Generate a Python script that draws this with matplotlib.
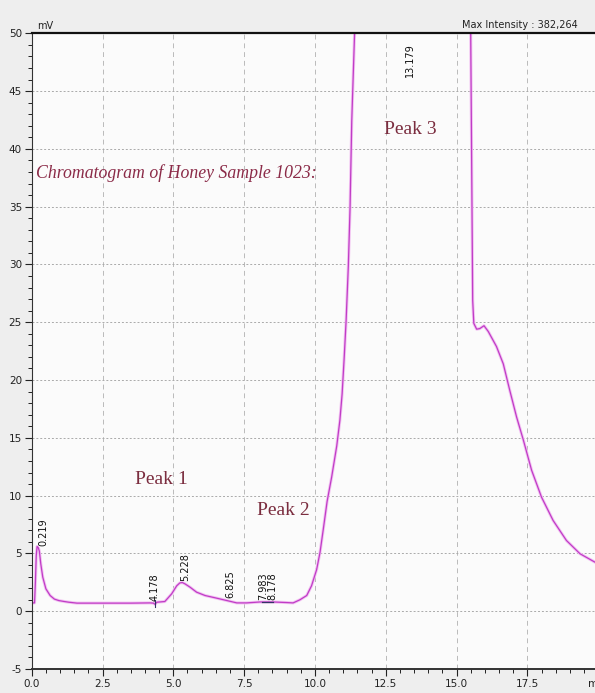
import numpy as np
import matplotlib.pyplot as plt
from matplotlib.ticker import MultipleLocator

# chromatogram trace (min, mV)
time = [0.0, 0.1, 0.13, 0.16, 0.19, 0.23, 0.27, 0.32, 0.39, 0.5, 0.65, 0.8,
        0.96, 1.15, 1.31, 1.6, 2.5, 3.5, 4.18, 4.3, 4.35, 4.42, 4.7, 4.94,
        5.12, 5.23, 5.32, 5.41, 5.59, 5.82, 6.12, 6.53, 6.88, 7.24, 7.59,
        8.06, 8.53, 9.0, 9.23, 9.47, 9.71, 9.88, 10.06, 10.18, 10.29, 10.43,
        10.59, 10.77, 10.88, 10.96, 11.03, 11.1, 11.18, 11.24, 11.3, 11.4,
        11.6, 12.0, 12.5, 13.179, 14.0, 14.8, 15.3, 15.5, 15.57, 15.61,
        15.71, 15.82, 15.97, 16.12, 16.41, 16.65, 16.88, 17.12, 17.36,
        17.65, 18.0, 18.41, 18.88, 19.36, 19.89, 20.0]
signal = [0.72, 0.72, 2.5, 4.8, 5.6, 5.5, 5.2, 4.1, 2.95, 1.94, 1.36, 1.05,
          0.92, 0.84, 0.78, 0.7, 0.7, 0.7, 0.72, 0.7, 0.6, 0.78, 0.84, 1.5,
          2.2, 2.45, 2.48, 2.37, 2.08, 1.65, 1.36, 1.13, 0.93, 0.72, 0.72,
          0.8, 0.8, 0.75, 0.72, 0.99, 1.36, 2.2, 3.6, 5.1, 7.0, 9.5, 11.6,
          14.3, 16.5, 18.8, 21.8, 25.1, 29.9, 34.9, 42.4, 50.0, 75.0, 150.0,
          280.0, 382.264, 300.0, 160.0, 80.0, 50.0, 26.9, 24.9, 24.4, 24.45,
          24.7, 24.2, 22.9, 21.4, 19.1, 16.8, 14.8, 12.2, 9.87, 7.85, 6.12,
          4.97, 4.24, 4.15]

# retention times printed on the peaks
peak_rt = [0.219, 4.178, 5.228, 6.825, 7.983, 8.178, 13.179]
peak_names = ["Peak 1", "Peak 2", "Peak 3"]
peak_name_pos = [(3.65, 11.4), (7.95, 8.7), (12.45, 41.7)]

plt.rcParams['font.family'] = ['DejaVu Sans']

fig = plt.figure(figsize=(5.95, 6.93), dpi=100, facecolor='#eeeeee')
ax = fig.add_axes([0.0533, 0.0346, 0.952, 0.9174], facecolor='#fbfbfb')

ax.plot(time, signal, color='#f2c2f2', lw=2.2, solid_joinstyle='round')
ax.plot(time, signal, color='#c03cc6', lw=0.9, solid_joinstyle='round')

ax.set_xlim(0, 20)
ax.set_ylim(-5, 50)
xt = np.arange(0, 20.1, 2.5)
ax.set_xticks(xt)
ax.set_xticklabels(['%.1f' % v for v in xt[:-1]] + ['min'])
yt = np.arange(-5, 51, 5)
ax.set_yticks(yt)
ax.set_yticklabels(['%d' % v for v in yt])
ax.xaxis.set_minor_locator(MultipleLocator(0.5))
ax.yaxis.set_minor_locator(MultipleLocator(1))

ax.tick_params(which='major', direction='out', length=5, width=0.8,
               labelsize=7.5, colors='#222222', pad=2)
ax.tick_params(which='minor', direction='out', length=3, width=0.7,
               colors='#222222')

ax.grid(axis='y', which='major', color='#aaaaaa', ls=(0, (2, 2)), lw=0.7)
ax.grid(axis='x', which='major', color='#bbbbbb', ls=(0, (5, 4)), lw=0.7)

ax.spines['top'].set_color('#111111')
ax.spines['top'].set_linewidth(1.6)
ax.spines['bottom'].set_color('#333333')
ax.spines['bottom'].set_linewidth(1.4)
ax.spines['left'].set_color('#333333')
ax.spines['right'].set_visible(False)

# retention time labels
for i, rt in enumerate(peak_rt):
    yb = np.interp(rt, time, signal) + 0.15
    if yb > 46:
        yb = 46.2
    dx = 0.13 if i == 5 else 0.0
    ax.text(rt + dx, yb, '%.3f' % rt, rotation=90, ha='left', va='bottom',
            fontsize=7, color='#111111')

# integration marks
ax.plot([peak_rt[1] + 0.17, peak_rt[1] + 0.17], [0.35, 1.0], color='#333366', lw=0.8)
ax.plot([peak_rt[4] + 0.15, peak_rt[5] + 0.35], [0.78, 0.78], color='#333366', lw=0.9)

for name, (px, py) in zip(peak_names, peak_name_pos):
    ax.text(px, py, name, fontsize=14, family='Liberation Serif',
            color='#7b2d3f', ha='left', va='center')

ax.text(0.15, 37.9, 'Chromatogram of Honey Sample 1023:', fontsize=12.8,
        family='Liberation Serif', style='italic', color='#8b2b48',
        ha='left', va='center')

fig.text(0.063, 0.955, 'mV', fontsize=7, color='#222222', ha='left', va='bottom')
fig.text(0.777, 0.957, 'Max Intensity : 382,264', fontsize=7,
         color='#222222', ha='left', va='bottom')

fig.savefig('out.png', dpi=100, facecolor=fig.get_facecolor())
